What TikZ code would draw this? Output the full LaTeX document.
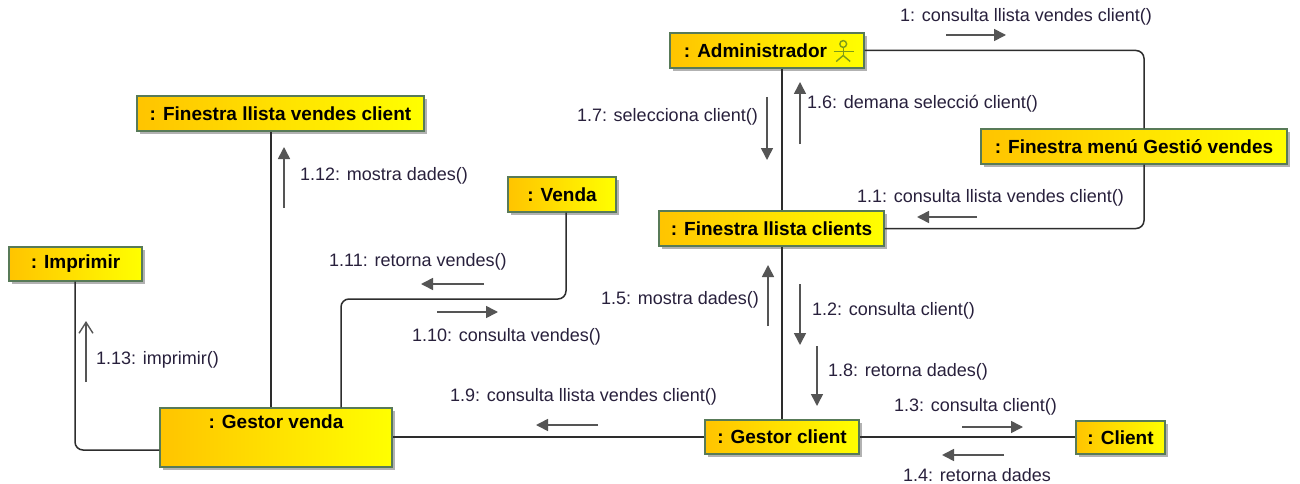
\documentclass[tikz,border=0pt]{standalone}
\usepackage{fontspec}
\setmainfont{Liberation Sans}
\usetikzlibrary{arrows.meta,shadows,calc}
\definecolor{objL}{RGB}{255,196,0}
\definecolor{objR}{RGB}{255,255,0}
\definecolor{objB}{RGB}{88,122,88}
\definecolor{connc}{RGB}{45,45,45}
\definecolor{msgc}{RGB}{85,85,85}
\definecolor{lblc}{RGB}{40,32,60}
\definecolor{actc}{RGB}{125,155,25}
\tikzset{
  obj/.style={draw=objB, line width=1.4pt, left color=objL, right color=objR,
    drop shadow={shadow xshift=3pt, shadow yshift=-3pt, fill=black!30, opacity=1},
    inner sep=0pt, font=\fontsize{19}{22}\selectfont\bfseries, text=black},
  objtext/.style={inner sep=0pt, font=\fontsize{19}{22}\selectfont\bfseries, text=black},
  conn/.style={draw=connc, line width=1.5pt, rounded corners=8pt},
  msg/.style={draw=msgc, line width=1.6pt, -{Triangle[length=12pt,width=12pt]}},
  msgopen/.style={draw=msgc, line width=1.4pt, -{Straight Barb[length=11pt,width=14pt]}},
  lbl/.style={inner sep=0pt, font=\fontsize{18}{21}\selectfont, text=lblc},
}
\begin{document}
\begin{tikzpicture}[x=1pt,y=-1pt]
\useasboundingbox (0,0) rectangle (1300,484);
\fill[white] (0,0) rectangle (1300,484);

\coordinate (gcx) at (782,437);
\coordinate (vk) at (453,299);

% ---- objects ----
\node[obj, minimum width=194pt, minimum height=35pt] (adm) at (767,50.5) {: Administrador\hspace*{23pt}};
\node[obj, minimum width=306pt, minimum height=35pt] (fmenu) at (1134,146.5) {: Finestra menú Gestió vendes};
\node[obj, minimum width=225pt, minimum height=35pt] (flc) at (771.5,228.5) {: Finestra llista clients};
\node[obj, minimum width=154pt, minimum height=34pt] (gc) at (782,437) {: Gestor client};
\node[obj, minimum width=89pt, minimum height=33pt] (cl) at (1120.5,437.5) {: Client};
\node[obj, minimum width=232pt, minimum height=59pt] (gv) at (276,437.5) {};
\node[objtext, anchor=north] (gvt) at ([yshift=-7pt]gv.north) {: Gestor venda};
\node[obj, minimum width=287pt, minimum height=35pt] (flvc) at (280.5,113.5) {: Finestra llista vendes client};
\node[obj, minimum width=108pt, minimum height=35pt] (ven) at (562,194.5) {: Venda};
\node[obj, minimum width=133pt, minimum height=34pt] (imp) at (75.5,264) {: Imprimir};

% actor icon
\begin{scope}[shift={(adm.east)}, draw=actc, line width=1.4pt]
  \draw (-21.5,-6.5) circle (3.4pt);
  \draw (-21.5,-3.1) -- (-21.5,5);
  \draw (-31,1) -- (-11,1);
  \draw (-21.5,5) -- (-28.5,11);
  \draw (-21.5,5) -- (-14.5,11);
\end{scope}

% ---- links ----
\draw[conn] (adm.east) -| ([xshift=10pt]fmenu.north);
\draw[conn] ([xshift=10pt]fmenu.south) |- (flc.east);
\draw[conn] (adm.south -| gcx) -- (flc.north -| gcx);
\draw[conn] (flc.south -| gcx) -- (gc.north);
\draw[conn] (gc.west) -- (gc.west -| gv.east);
\draw[conn] (gc.east) -- (gc.east -| cl.west);
\draw[conn] ([xshift=-5pt]gv.north) -- ([xshift=-5pt]gv.north |- flvc.south);
\draw[conn] ([xshift=65pt]gv.north) |- (vk) -| ([xshift=4pt]ven.south);
\draw[conn] ([yshift=-12.5pt]gv.west) -| ([xshift=-0.5pt]imp.south);

% ---- messages ----
\coordinate (m1a) at (946,35);   \coordinate (m1b) at (1006,35);
\coordinate (m17a) at (767,97);  \coordinate (m17b) at (767,160);
\coordinate (m16a) at (800,144); \coordinate (m16b) at (800,82);
\coordinate (m11a) at (977,217); \coordinate (m11b) at (917,217);
\coordinate (m15a) at (768,326); \coordinate (m15b) at (768,265);
\coordinate (m12a) at (800,284); \coordinate (m12b) at (800,345);
\coordinate (m18a) at (817,346); \coordinate (m18b) at (817,406);
\coordinate (m13a) at (962,427); \coordinate (m13b) at (1023,427);
\coordinate (m14a) at (1004,455); \coordinate (m14b) at (942,455);
\coordinate (m19a) at (598,425); \coordinate (m19b) at (536,425);
\coordinate (m110a) at (437,312); \coordinate (m110b) at (498,312);
\coordinate (m111a) at (484,284); \coordinate (m111b) at (421,284);
\coordinate (m112a) at (284,208); \coordinate (m112b) at (284,147);
\coordinate (m113a) at (86,382); \coordinate (m113b) at (86,321);

\draw[msg] (m1a) -- (m1b);
\draw[msg] (m17a) -- (m17b);
\draw[msg] (m16a) -- (m16b);
\draw[msg] (m11a) -- (m11b);
\draw[msg] (m15a) -- (m15b);
\draw[msg] (m12a) -- (m12b);
\draw[msg] (m18a) -- (m18b);
\draw[msg] (m13a) -- (m13b);
\draw[msg] (m14a) -- (m14b);
\draw[msg] (m19a) -- (m19b);
\draw[msg] (m110a) -- (m110b);
\draw[msg] (m111a) -- (m111b);
\draw[msg] (m112a) -- (m112b);
\draw[msgopen] (m113a) -- (m113b);

% ---- labels ----
\node[lbl, anchor=west] (l1) at (900,17) {1: consulta llista vendes client()};
\node[lbl, anchor=east] (l17) at (758,117) {1.7: selecciona client()};
\node[lbl, anchor=west] (l16) at (807,104) {1.6: demana selecció client()};
\node[lbl, anchor=west] (l11) at (857,198) {1.1: consulta llista vendes client()};
\node[lbl, anchor=east] (l15) at (759,300) {1.5: mostra dades()};
\node[lbl, anchor=west] (l12) at (812,311) {1.2: consulta client()};
\node[lbl, anchor=west] (l18) at (828,372) {1.8: retorna dades()};
\node[lbl, anchor=west] (l13) at (894,407) {1.3: consulta client()};
\node[lbl, anchor=west] (l14) at (903,475) {1.4: retorna dades};
\node[lbl, anchor=west] (l19) at (450,397) {1.9: consulta llista vendes client()};
\node[lbl, anchor=west] (l110) at (412,337) {1.10: consulta vendes()};
\node[lbl, anchor=west] (l111) at (329,262) {1.11: retorna vendes()};
\node[lbl, anchor=west] (l112) at (300,176) {1.12: mostra dades()};
\node[lbl, anchor=west] (l113) at (96,360) {1.13: imprimir()};
\end{tikzpicture}
\end{document}
